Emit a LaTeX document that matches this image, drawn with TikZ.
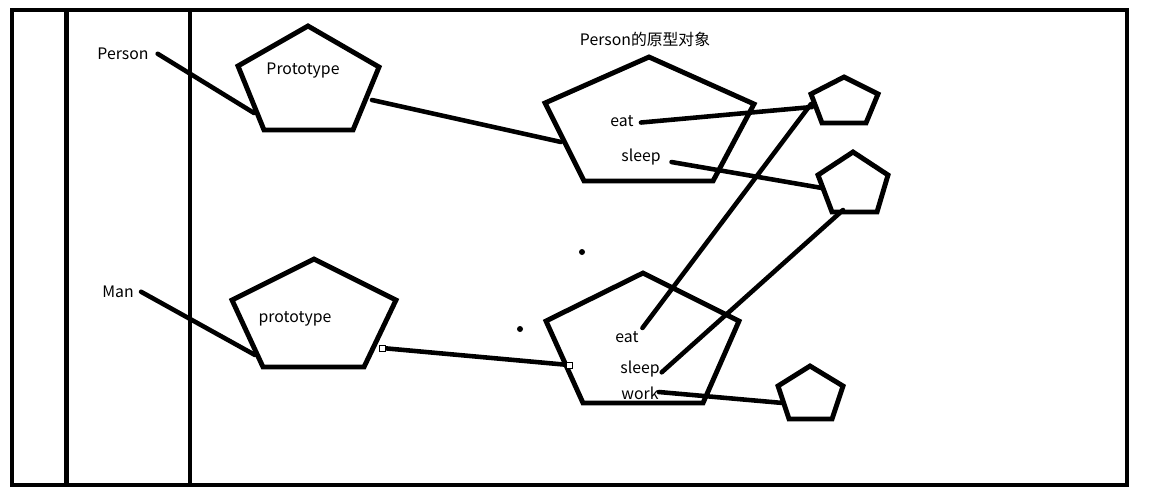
\documentclass[tikz,border=0pt]{standalone}
\usepackage{fontspec}
\setmainfont{Noto Sans CJK SC}
\begin{document}
\begin{tikzpicture}[x=0.02cm,y=-0.02cm,
	frame/.style={line width=2.4pt},
	pent/.style={line width=2.8pt, line join=miter},
	link/.style={line width=2.6pt, line cap=round},
	handle/.style={draw, fill=white, line width=0.4pt, inner sep=0pt, minimum size=3.5pt},
	lbl/.style={inner sep=0pt, yshift=-1pt, font=\fontsize{9}{11}\selectfont}]
		\useasboundingbox (0,0) rectangle (1151,495);
		\newcommand{\frameTop}{10}
		\newcommand{\frameBottom}{485}
		
		\draw[frame] (12,\frameTop) rectangle (1127,\frameBottom);	% outer frame
		\draw[frame] (66.5,\frameTop) -- (66.5,\frameBottom);		% first column
		\draw[frame] (190,\frameTop) -- (190,\frameBottom);		% second column
		
		% prototypes of the constructors
		\draw[pent] (308,26) -- (379,67) -- (353,130) -- (264,130) -- (238,66) -- cycle;
		\draw[pent] (314,259) -- (396,300) -- (364,367) -- (263,367) -- (232,300) -- cycle;
		
		% prototype objects
		\draw[pent] (649,57) -- (754,104) -- (713,181) -- (584,181) -- (545,103) -- cycle;
		\draw[pent] (643,273) -- (739,321) -- (703,403) -- (583,403) -- (546,321) -- cycle;
		
		% functions
		\draw[pent] (844,77) -- (878,94) -- (866,123) -- (822,123) -- (811,94) -- cycle;
		\draw[pent] (853,152) -- (888,175) -- (877,212) -- (832,212) -- (818,175) -- cycle;
		\draw[pent] (810,366) -- (843,386) -- (832,419) -- (789,419) -- (778,386) -- cycle;
		
		% labels
		\node[lbl] (person) at (123,52) {Person};
		\node[lbl] (man) at (118,290) {Man};
		\node[lbl] (protoA) at (303,69) {Prototype};
		\node[lbl] (protoB) at (295,317) {prototype};
		\node[lbl] (title) at (645,38) {Person的原型对象};
		\node[lbl] (eatA) at (622,119) {eat};
		\node[lbl] (sleepA) at (641,155) {sleep};
		\node[lbl] (eatB) at (627,335) {eat};
		\node[lbl] (sleepB) at (640,367) {sleep};
		\node[lbl] (workB) at (640,392) {work};
		
		% ends on the pentagons
		\coordinate (protoAL) at (254,113);
		\coordinate (protoAR) at (372,100);
		\coordinate (protoBL) at (255,355);
		\coordinate (protoBR) at (382,348);
		\coordinate (objAL) at (561,142);
		\coordinate (objBL) at (569,365);
		\coordinate (funEat) at (812,107);
		\coordinate (funEatB) at (811,104);
		\coordinate (funSleep) at (822,188);
		\coordinate (funSleepB) at (843,210);
		\coordinate (funWork) at (783,403);
		
		% links
		\draw[link] ([xshift=5]person.east) -- (protoAL);
		\draw[link] ([xshift=4]man.east) -- (protoBL);
		\draw[link] (protoAR) -- (objAL);
		\draw[link] (protoBR) -- (objBL);
		\draw[link] ([xshift=4,yshift=-1]eatA.east) -- (funEat);
		\draw[link] ([xshift=6,yshift=-3]sleepA.east) -- (funSleep);
		\draw[link] ([xshift=2,yshift=5]eatB.east) -- (funEatB);
		\draw[link] ([xshift=1,yshift=-2]sleepB.east) -- (funSleepB);
		\draw[link] ([xshift=0,yshift=1]workB.east) -- (funWork);
		\node[handle] at (protoBR) {};
		\node[handle] at (objBL) {};
		
		% stray dots
		\fill (582,252) circle (3);
		\fill (520,329) circle (3);
\end{tikzpicture}
\end{document}
